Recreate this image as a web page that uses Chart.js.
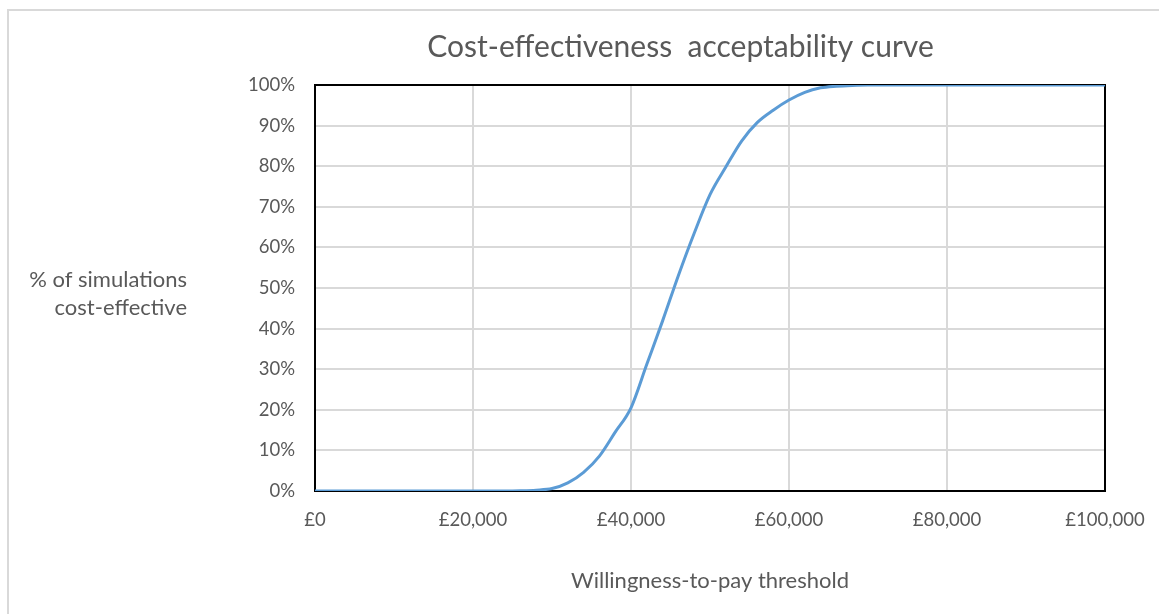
<!DOCTYPE html>
<html>
<head>
<meta charset="utf-8">
<script src="https://cdn.jsdelivr.net/npm/chart.js@4/dist/chart.umd.min.js"></script>
<style>
  html, body { margin: 0; padding: 0; background: #fff; }
  #wrap { width: 1159px; height: 614px; position: relative; }
</style>
</head>
<body>
<div id="wrap"><canvas id="c" width="1159" height="614"></canvas></div>
<script>
// Willingness-to-pay thresholds (£)
const thresholds = [0, 2000, 4000, 6000, 8000, 10000, 12000, 14000, 16000, 18000, 20000,
  22000, 24000, 26000, 28000, 30000, 32000, 34000, 36000, 38000, 40000,
  42000, 44000, 46000, 48000, 50000, 52000, 54000, 56000, 58000, 60000,
  62000, 64000, 66000, 68000, 70000, 75000, 80000, 85000, 90000, 95000, 100000];
// % of simulations cost-effective
const pctCostEffective = [0, 0, 0, 0, 0, 0, 0, 0, 0, 0, 0,
  0, 0, 0.05, 0.2, 0.6, 2.0, 4.6, 8.6, 14.5, 20.5,
  31.2, 41.9, 53.1, 63.5, 73.0, 79.8, 86.2, 90.8, 93.8, 96.3,
  98.2, 99.3, 99.7, 99.9, 100, 100, 100, 100, 100, 100, 100];
const xTicks = [0, 20000, 40000, 60000, 80000, 100000];
const chartTitle = 'Cost-effectiveness  acceptability curve';
const xTitle = 'Willingness-to-pay threshold';
const yTitleLines = ['% of simulations', 'cost-effective'];

const TEXT = '#595959';
const FONT = 'Lato, "Open Sans", sans-serif';

const points = thresholds.map((x, i) => ({ x: x, y: pctCostEffective[i] }));

const decor = {
  id: 'decor',
  beforeDraw(chart) {
    const ctx = chart.ctx;
    ctx.save();
    ctx.fillStyle = '#fff';
    ctx.fillRect(0, 0, chart.width, chart.height);
    ctx.strokeStyle = '#d9d9d9';
    ctx.lineWidth = 2;
    ctx.beginPath();
    ctx.moveTo(8, chart.height);
    ctx.lineTo(8, 10);
    ctx.lineTo(chart.width, 10);
    ctx.stroke();
    ctx.restore();
  },
  beforeDatasetsDraw(chart) {
    const ctx = chart.ctx;
    const a = chart.chartArea;
    ctx.save();
    ctx.strokeStyle = '#000';
    ctx.lineWidth = 2;
    ctx.strokeRect(a.left, a.top, a.right - a.left, a.bottom - a.top);
    ctx.restore();
  },
  afterDraw(chart) {
    const ctx = chart.ctx;
    ctx.save();
    ctx.fillStyle = TEXT;
    ctx.font = '22px ' + FONT;
    ctx.textAlign = 'right';
    ctx.textBaseline = 'middle';
    ctx.fillText(yTitleLines[0], 187, 280);
    ctx.fillText(yTitleLines[1], 187, 308);
    ctx.restore();
  }
};

new Chart(document.getElementById('c'), {
  type: 'line',
  data: {
    datasets: [{
      data: points,
      borderColor: '#5B9BD5',
      borderWidth: 3,
      pointRadius: 0,
      fill: false,
      cubicInterpolationMode: 'monotone'
    }]
  },
  options: {
    responsive: false,
    animation: false,
    layout: { padding: { left: 240, right: 38, top: 10, bottom: 0 } },
    plugins: {
      legend: { display: false },
      tooltip: { enabled: false },
      title: {
        display: true,
        text: chartTitle,
        color: TEXT,
        font: { family: FONT, size: 30, weight: 'normal' },
        padding: { top: 19, bottom: 20 }
      }
    },
    scales: {
      x: {
        type: 'linear',
        min: 0,
        max: 100000,
        afterBuildTicks(scale) { scale.ticks = xTicks.map(v => ({ value: v })); },
        afterFit(scale) { scale.height = 123; },
        grid: { color: '#d9d9d9', lineWidth: 2, drawTicks: true, tickLength: 18, tickColor: 'rgba(0,0,0,0)' },
        border: { display: false },
        ticks: {
          color: TEXT,
          font: { family: FONT, size: 18.5 },
          padding: 0,
          maxRotation: 0,
          callback: v => '£' + Number(v).toLocaleString('en-GB')
        },
        title: {
          display: true,
          text: xTitle,
          color: TEXT,
          font: { family: FONT, size: 22 },
          padding: { top: 0, bottom: 20 }
        }
      },
      y: {
        min: 0,
        max: 100,
        afterFit(scale) { scale.width = 75; },
        grid: { color: '#d9d9d9', lineWidth: 2, drawTicks: false },
        border: { display: false },
        ticks: {
          stepSize: 10,
          color: TEXT,
          font: { family: FONT, size: 18.5 },
          padding: 20,
          callback: v => v + '%'
        }
      },
      yRight: {
        position: 'right',
        min: 0,
        max: 100,
        afterFit(scale) { scale.width = 16; },
        grid: { display: false },
        border: { display: false },
        ticks: { display: false }
      }
    }
  },
  plugins: [decor]
});
</script>
</body>
</html>
